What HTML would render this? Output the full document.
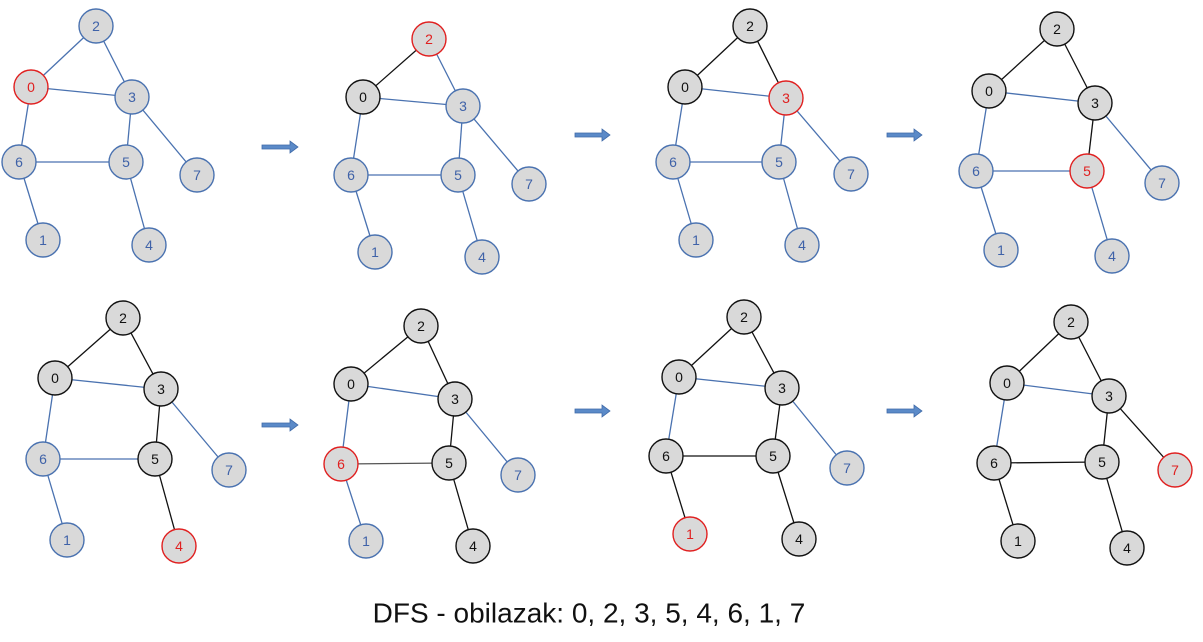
<!DOCTYPE html>
<html><head><meta charset="utf-8"><style>
body{margin:0;background:#fff}
svg{display:block}
line{stroke-width:1.3}
line.b{stroke:#4a72b0}line.k{stroke:#111}
circle{fill:#d9d9d9;stroke-width:1.4}
circle.b{stroke:#4a72b0}circle.k{stroke:#111}circle.r{stroke:#e02020}
text{font-family:"Liberation Sans",sans-serif;font-size:14px;text-anchor:middle;dominant-baseline:central}
text.b{fill:#3f62a8}text.k{fill:#111}text.r{fill:#e02020}
.cap{font-size:28px;fill:#111}
.ar{fill:#5b8ac8;stroke:#3f6aa8;stroke-width:.8}
</style></head><body>
<svg width="1203" height="642" viewBox="0 0 1203 642">
<g class="ar">
<path d="M262 145h28v-4l8 6-8 6v-4h-28z"/>
<path d="M575 133h27v-4l8 6-8 6v-4h-27z"/>
<path d="M887 133h27v-4l8 6-8 6v-4h-27z"/>
<path d="M262 423h28v-4l8 6-8 6v-4h-28z"/>
<path d="M575 409h27v-4l8 6-8 6v-4h-27z"/>
<path d="M887 409h27v-4l8 6-8 6v-4h-27z"/>
</g>
<!-- G1 -->
<line class="b" x1="31" y1="87" x2="96" y2="26"/><line class="b" x1="96" y1="26" x2="132" y2="97"/><line class="b" x1="31" y1="87" x2="132" y2="97"/><line class="b" x1="31" y1="87" x2="19" y2="162"/><line class="b" x1="132" y1="97" x2="126" y2="162"/><line class="b" x1="132" y1="97" x2="197" y2="175"/><line class="b" x1="19" y1="162" x2="126" y2="162"/><line class="b" x1="19" y1="162" x2="43" y2="240"/><line class="b" x1="126" y1="162" x2="149" y2="245"/>
<circle class="b" cx="96" cy="26" r="17"/><text class="b" x="96" y="26">2</text>
<circle class="r" cx="31" cy="87" r="17"/><text class="r" x="31" y="87">0</text>
<circle class="b" cx="132" cy="97" r="17"/><text class="b" x="132" y="97">3</text>
<circle class="b" cx="19" cy="162" r="17"/><text class="b" x="19" y="162">6</text>
<circle class="b" cx="126" cy="162" r="17"/><text class="b" x="126" y="162">5</text>
<circle class="b" cx="197" cy="175" r="17"/><text class="b" x="197" y="175">7</text>
<circle class="b" cx="43" cy="240" r="17"/><text class="b" x="43" y="240">1</text>
<circle class="b" cx="149" cy="245" r="17"/><text class="b" x="149" y="245">4</text>
<!-- G2 -->
<line class="k" x1="363" y1="97" x2="429" y2="39"/><line class="b" x1="429" y1="39" x2="463" y2="106"/><line class="b" x1="363" y1="97" x2="463" y2="106"/><line class="b" x1="363" y1="97" x2="351" y2="175"/><line class="b" x1="463" y1="106" x2="458" y2="175"/><line class="b" x1="463" y1="106" x2="529" y2="184"/><line class="b" x1="351" y1="175" x2="458" y2="175"/><line class="b" x1="351" y1="175" x2="375" y2="252"/><line class="b" x1="458" y1="175" x2="482" y2="257"/>
<circle class="r" cx="429" cy="39" r="17"/><text class="r" x="429" y="39">2</text>
<circle class="k" cx="363" cy="97" r="17"/><text class="k" x="363" y="97">0</text>
<circle class="b" cx="463" cy="106" r="17"/><text class="b" x="463" y="106">3</text>
<circle class="b" cx="351" cy="175" r="17"/><text class="b" x="351" y="175">6</text>
<circle class="b" cx="458" cy="175" r="17"/><text class="b" x="458" y="175">5</text>
<circle class="b" cx="529" cy="184" r="17"/><text class="b" x="529" y="184">7</text>
<circle class="b" cx="375" cy="252" r="17"/><text class="b" x="375" y="252">1</text>
<circle class="b" cx="482" cy="257" r="17"/><text class="b" x="482" y="257">4</text>
<!-- G3 -->
<line class="k" x1="685" y1="87" x2="750" y2="26"/><line class="k" x1="750" y1="26" x2="786" y2="98"/><line class="b" x1="685" y1="87" x2="786" y2="98"/><line class="b" x1="685" y1="87" x2="673" y2="162"/><line class="b" x1="786" y1="98" x2="779" y2="162"/><line class="b" x1="786" y1="98" x2="851" y2="174"/><line class="b" x1="673" y1="162" x2="779" y2="162"/><line class="b" x1="673" y1="162" x2="696" y2="240"/><line class="b" x1="779" y1="162" x2="802" y2="245"/>
<circle class="k" cx="750" cy="26" r="17"/><text class="k" x="750" y="26">2</text>
<circle class="k" cx="685" cy="87" r="17"/><text class="k" x="685" y="87">0</text>
<circle class="r" cx="786" cy="98" r="17"/><text class="r" x="786" y="98">3</text>
<circle class="b" cx="673" cy="162" r="17"/><text class="b" x="673" y="162">6</text>
<circle class="b" cx="779" cy="162" r="17"/><text class="b" x="779" y="162">5</text>
<circle class="b" cx="851" cy="174" r="17"/><text class="b" x="851" y="174">7</text>
<circle class="b" cx="696" cy="240" r="17"/><text class="b" x="696" y="240">1</text>
<circle class="b" cx="802" cy="245" r="17"/><text class="b" x="802" y="245">4</text>
<!-- G4 -->
<line class="k" x1="989" y1="91" x2="1057" y2="29"/><line class="k" x1="1057" y1="29" x2="1095" y2="103"/><line class="b" x1="989" y1="91" x2="1095" y2="103"/><line class="b" x1="989" y1="91" x2="976" y2="171"/><line class="k" x1="1095" y1="103" x2="1087" y2="171"/><line class="b" x1="1095" y1="103" x2="1162" y2="183"/><line class="b" x1="976" y1="171" x2="1087" y2="171"/><line class="b" x1="976" y1="171" x2="1001" y2="250"/><line class="b" x1="1087" y1="171" x2="1112" y2="256"/>
<circle class="k" cx="1057" cy="29" r="17"/><text class="k" x="1057" y="29">2</text>
<circle class="k" cx="989" cy="91" r="17"/><text class="k" x="989" y="91">0</text>
<circle class="k" cx="1095" cy="103" r="17"/><text class="k" x="1095" y="103">3</text>
<circle class="b" cx="976" cy="171" r="17"/><text class="b" x="976" y="171">6</text>
<circle class="r" cx="1087" cy="171" r="17"/><text class="r" x="1087" y="171">5</text>
<circle class="b" cx="1162" cy="183" r="17"/><text class="b" x="1162" y="183">7</text>
<circle class="b" cx="1001" cy="250" r="17"/><text class="b" x="1001" y="250">1</text>
<circle class="b" cx="1112" cy="256" r="17"/><text class="b" x="1112" y="256">4</text>
<!-- G5 -->
<line class="k" x1="55" y1="378" x2="123" y2="318"/><line class="k" x1="123" y1="318" x2="161" y2="389"/><line class="b" x1="55" y1="378" x2="161" y2="389"/><line class="b" x1="55" y1="378" x2="43" y2="459"/><line class="k" x1="161" y1="389" x2="155" y2="459"/><line class="b" x1="161" y1="389" x2="229" y2="470"/><line class="b" x1="43" y1="459" x2="155" y2="459"/><line class="b" x1="43" y1="459" x2="67" y2="540"/><line class="k" x1="155" y1="459" x2="179" y2="546"/>
<circle class="k" cx="123" cy="318" r="17"/><text class="k" x="123" y="318">2</text>
<circle class="k" cx="55" cy="378" r="17"/><text class="k" x="55" y="378">0</text>
<circle class="k" cx="161" cy="389" r="17"/><text class="k" x="161" y="389">3</text>
<circle class="b" cx="43" cy="459" r="17"/><text class="b" x="43" y="459">6</text>
<circle class="k" cx="155" cy="459" r="17"/><text class="k" x="155" y="459">5</text>
<circle class="b" cx="229" cy="470" r="17"/><text class="b" x="229" y="470">7</text>
<circle class="b" cx="67" cy="540" r="17"/><text class="b" x="67" y="540">1</text>
<circle class="r" cx="179" cy="546" r="17"/><text class="r" x="179" y="546">4</text>
<!-- G6 -->
<line class="k" x1="351" y1="384" x2="421" y2="326"/><line class="k" x1="421" y1="326" x2="455" y2="399"/><line class="b" x1="351" y1="384" x2="455" y2="399"/><line class="b" x1="351" y1="384" x2="341" y2="464"/><line class="k" x1="455" y1="399" x2="449" y2="463"/><line class="b" x1="455" y1="399" x2="518" y2="475"/><line class="k" x1="341" y1="464" x2="449" y2="463" style="stroke:#555"/><line class="b" x1="341" y1="464" x2="366" y2="541"/><line class="k" x1="449" y1="463" x2="473" y2="546"/>
<circle class="k" cx="421" cy="326" r="17"/><text class="k" x="421" y="326">2</text>
<circle class="k" cx="351" cy="384" r="17"/><text class="k" x="351" y="384">0</text>
<circle class="k" cx="455" cy="399" r="17"/><text class="k" x="455" y="399">3</text>
<circle class="r" cx="341" cy="464" r="17"/><text class="r" x="341" y="464">6</text>
<circle class="k" cx="449" cy="463" r="17"/><text class="k" x="449" y="463">5</text>
<circle class="b" cx="518" cy="475" r="17"/><text class="b" x="518" y="475">7</text>
<circle class="b" cx="366" cy="541" r="17"/><text class="b" x="366" y="541">1</text>
<circle class="k" cx="473" cy="546" r="17"/><text class="k" x="473" y="546">4</text>
<!-- G7 -->
<line class="k" x1="679" y1="377" x2="744" y2="317"/><line class="k" x1="744" y1="317" x2="782" y2="388"/><line class="b" x1="679" y1="377" x2="782" y2="388"/><line class="b" x1="679" y1="377" x2="666" y2="456"/><line class="k" x1="782" y1="388" x2="773" y2="456"/><line class="b" x1="782" y1="388" x2="847" y2="468"/><line class="k" x1="666" y1="456" x2="773" y2="456"/><line class="k" x1="666" y1="456" x2="690" y2="534"/><line class="k" x1="773" y1="456" x2="799" y2="539"/>
<circle class="k" cx="744" cy="317" r="17"/><text class="k" x="744" y="317">2</text>
<circle class="k" cx="679" cy="377" r="17"/><text class="k" x="679" y="377">0</text>
<circle class="k" cx="782" cy="388" r="17"/><text class="k" x="782" y="388">3</text>
<circle class="k" cx="666" cy="456" r="17"/><text class="k" x="666" y="456">6</text>
<circle class="k" cx="773" cy="456" r="17"/><text class="k" x="773" y="456">5</text>
<circle class="b" cx="847" cy="468" r="17"/><text class="b" x="847" y="468">7</text>
<circle class="r" cx="690" cy="534" r="17"/><text class="r" x="690" y="534">1</text>
<circle class="k" cx="799" cy="539" r="17"/><text class="k" x="799" y="539">4</text>
<!-- G8 -->
<line class="k" x1="1007" y1="383" x2="1071" y2="322"/><line class="k" x1="1071" y1="322" x2="1109" y2="396"/><line class="b" x1="1007" y1="383" x2="1109" y2="396"/><line class="b" x1="1007" y1="383" x2="994" y2="463"/><line class="k" x1="1109" y1="396" x2="1102" y2="462"/><line class="k" x1="1109" y1="396" x2="1175" y2="470"/><line class="k" x1="994" y1="463" x2="1102" y2="462"/><line class="k" x1="994" y1="463" x2="1018" y2="541"/><line class="k" x1="1102" y1="462" x2="1127" y2="548"/>
<circle class="k" cx="1071" cy="322" r="17"/><text class="k" x="1071" y="322">2</text>
<circle class="k" cx="1007" cy="383" r="17"/><text class="k" x="1007" y="383">0</text>
<circle class="k" cx="1109" cy="396" r="17"/><text class="k" x="1109" y="396">3</text>
<circle class="k" cx="994" cy="463" r="17"/><text class="k" x="994" y="463">6</text>
<circle class="k" cx="1102" cy="462" r="17"/><text class="k" x="1102" y="462">5</text>
<circle class="r" cx="1175" cy="470" r="17"/><text class="r" x="1175" y="470">7</text>
<circle class="k" cx="1018" cy="541" r="17"/><text class="k" x="1018" y="541">1</text>
<circle class="k" cx="1127" cy="548" r="17"/><text class="k" x="1127" y="548">4</text>
<text class="cap" x="589" y="613">DFS - obilazak: 0, 2, 3, 5, 4, 6, 1, 7</text>
</svg>
</body></html>
